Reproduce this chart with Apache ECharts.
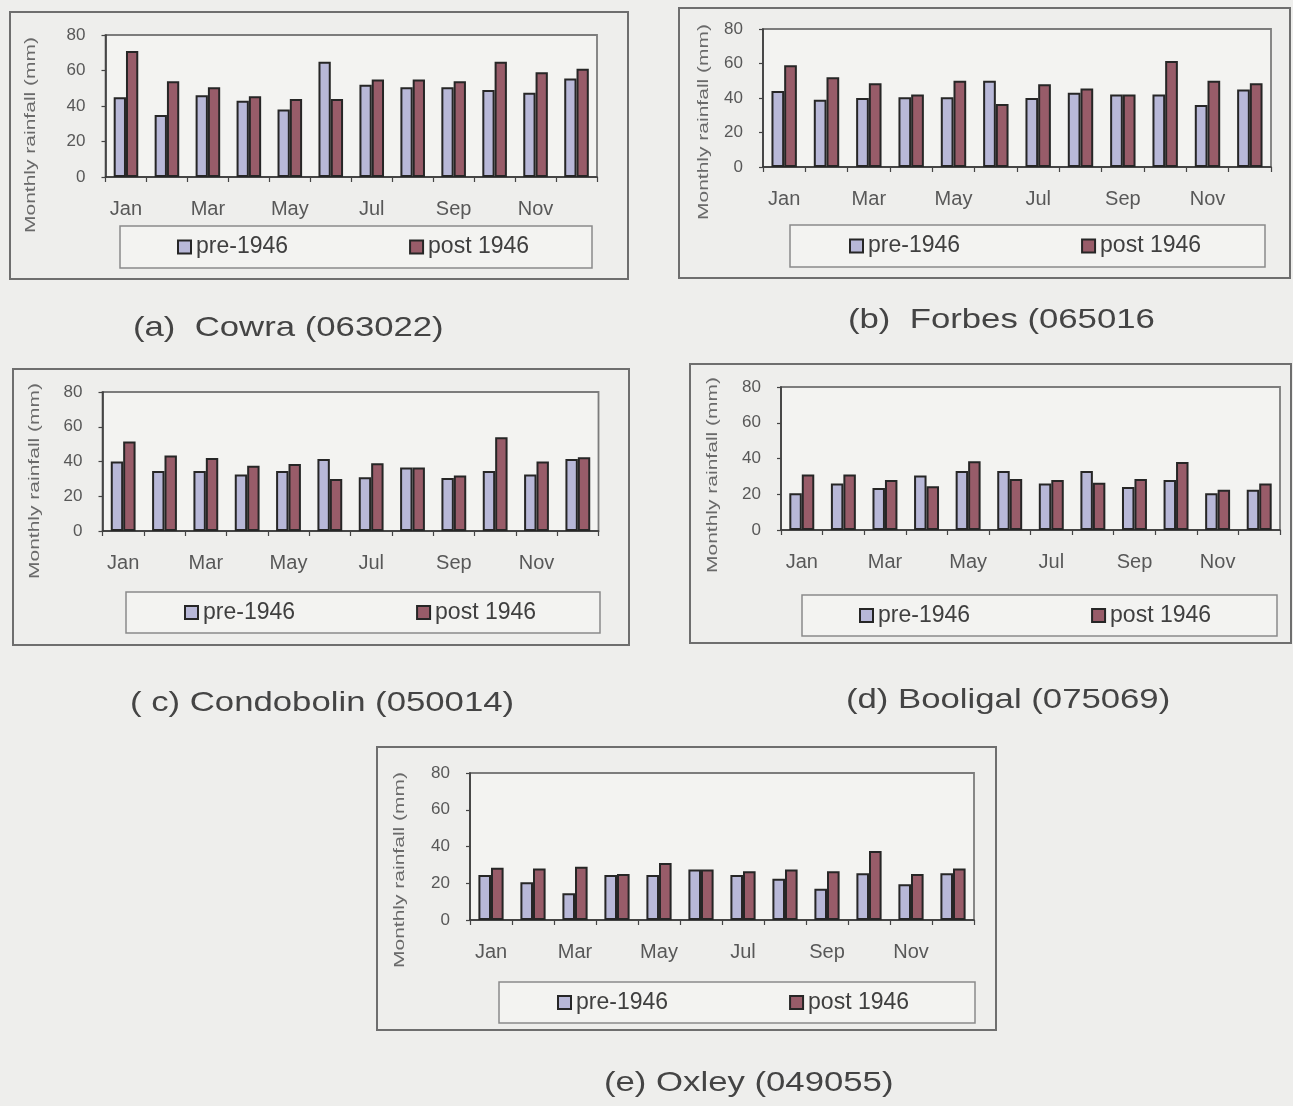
<!DOCTYPE html>
<html>
<head>
<meta charset="utf-8">
<script src="https://cdn.jsdelivr.net/npm/echarts@6/dist/echarts.min.js"></script>
<style>
  html, body { margin: 0; padding: 0; background: #eeeeec; }
  #chart { width: 1293px; height: 1106px; }
</style>
</head>
<body>
<div id="chart"></div>
<script>
// Mean monthly rainfall (mm) before and after 1946 at five stations
const months = ['Jan', 'Feb', 'Mar', 'Apr', 'May', 'Jun', 'Jul', 'Aug', 'Sep', 'Oct', 'Nov', 'Dec'];
const seriesNames = ['pre-1946', 'post 1946'];
const yAxisTitle = 'Monthly rainfall (mm)';
const yMin = 0, yMax = 80, yStep = 20;

const cowraPre  = [45, 35, 46, 43, 38, 65, 52, 50.5, 50.5, 49, 47.5, 55.5];
const cowraPost = [71, 54, 50.5, 45.5, 44, 44, 55, 55, 54, 65, 59, 61];

const forbesPre  = [44, 39, 40, 40.5, 40.5, 50, 40, 43, 42, 42, 36, 45];
const forbesPost = [59, 52, 48.5, 42, 50, 36.5, 48, 45.5, 42, 61.5, 50, 48.5];

const condobolinPre  = [40, 34.5, 34.5, 32.5, 34.5, 41.5, 31, 36.5, 30.5, 34.5, 32.5, 41.5];
const condobolinPost = [51.5, 43.5, 42, 37.5, 38.5, 30, 39, 36.5, 32, 54, 40, 42.5];

const booligalPre  = [20.5, 26, 23.5, 30.5, 33, 33, 26, 33, 24, 28, 20.5, 22.5];
const booligalPost = [31, 31, 28, 24.5, 38.5, 28.5, 28, 26.5, 28.5, 38, 22.5, 26];

const oxleyPre  = [24.5, 20.5, 14.5, 24.5, 24.5, 27.5, 24.5, 22.5, 17, 25.5, 19.5, 25.5];
const oxleyPost = [28.5, 28, 29, 25, 31, 27.5, 26.5, 27.5, 26.5, 37.5, 25, 28];

const stations = [
  { caption: '(a)  Cowra (063022)', pre: cowraPre, post: cowraPost },
  { caption: '(b)  Forbes (065016', pre: forbesPre, post: forbesPost },
  { caption: '( c) Condobolin (050014)', pre: condobolinPre, post: condobolinPost },
  { caption: '(d) Booligal (075069)', pre: booligalPre, post: booligalPost },
  { caption: '(e) Oxley (049055)', pre: oxleyPre, post: oxleyPost }
];

// Page layout of each panel: frame, plot rectangle, legend frame, legend start,
// rotated axis title centre and caption anchor (all in px)
const layout = [
  { box: [10, 12, 618, 267],  grid: [105.5, 35, 491.5, 142], legend: [120, 226, 472, 42], legendStart: 177, yTitle: [31, 135], caption: [133, 328] },
  { box: [679, 8, 611, 270],  grid: [763, 29, 508, 138],     legend: [790, 225, 475, 42], legendStart: 849, yTitle: [704, 122], caption: [848, 320] },
  { box: [13, 369, 616, 276], grid: [102.5, 392, 496, 139],  legend: [126, 592, 474, 41], legendStart: 184, yTitle: [35, 481], caption: [130, 703] },
  { box: [690, 364, 601, 279], grid: [781, 387, 499, 143],   legend: [802, 595, 475, 41], legendStart: 859, yTitle: [713, 475], caption: [846, 700] },
  { box: [377, 747, 619, 283], grid: [470, 773, 504, 147],   legend: [499, 982, 476, 41], legendStart: 557, yTitle: [400, 870], caption: [604, 1083] }
];

const FONT = '"Liberation Sans", Arial, Helvetica, sans-serif';
const PRE_COLOR = '#b8b8d8';
const POST_COLOR = '#985c69';
const BAR_EDGE = '#262626';
const LEGEND_FONT = 23;

const grid = [], xAxis = [], yAxis = [], series = [], legend = [], graphic = [];

stations.forEach((st, i) => {
  const L = layout[i];
  grid.push({
    left: L.grid[0], top: L.grid[1], width: L.grid[2], height: L.grid[3],
    show: true, backgroundColor: '#f3f3f1', borderColor: '#7c7c7c', borderWidth: 1.8
  });
  xAxis.push({
    type: 'category', gridIndex: i, data: months,
    axisLine: { lineStyle: { color: '#333', width: 1.5 } },
    axisTick: { show: true, interval: 0, length: 5, lineStyle: { color: '#444', width: 1.2 } },
    axisLabel: { interval: 1, margin: 22, color: '#585858', fontSize: 20, fontFamily: FONT }
  });
  yAxis.push({
    type: 'value', gridIndex: i, min: yMin, max: yMax, interval: yStep,
    axisLine: { show: true, lineStyle: { color: '#333', width: 1.5 } },
    axisTick: { show: true, length: 4, lineStyle: { color: '#444', width: 1.2 } },
    splitLine: { show: false },
    axisLabel: { margin: 20, color: '#585858', fontSize: 17, fontFamily: FONT }
  });
  [st.pre, st.post].forEach((vals, k) => {
    series.push({
      type: 'bar', name: seriesNames[k], xAxisIndex: i, yAxisIndex: i,
      data: vals, barWidth: '30%', barGap: '0%',
      itemStyle: { color: k === 0 ? PRE_COLOR : POST_COLOR, borderColor: BAR_EDGE, borderWidth: 2 }
    });
  });
  legend.push({
    left: L.legendStart, top: L.legend[1] + (L.legend[3] - LEGEND_FONT) / 2,
    padding: 0, itemGap: 121, itemWidth: 13, itemHeight: 13, icon: 'rect',
    selectedMode: false, data: seriesNames,
    textStyle: { fontFamily: FONT, fontSize: LEGEND_FONT, color: '#3f3f3f' }
  });

  // panel frame
  graphic.push({
    type: 'rect', z: 0, silent: true,
    shape: { x: L.box[0], y: L.box[1], width: L.box[2], height: L.box[3] },
    style: { fill: 'transparent', stroke: '#6e6e6e', lineWidth: 2 }
  });
  // legend frame
  graphic.push({
    type: 'rect', z: 0, silent: true,
    shape: { x: L.legend[0], y: L.legend[1], width: L.legend[2], height: L.legend[3] },
    style: { fill: '#f3f3f1', stroke: '#8a8a8a', lineWidth: 1.5 }
  });
  // rotated y-axis title
  graphic.push({
    type: 'text', z: 1, silent: true,
    x: L.yTitle[0], y: L.yTitle[1], rotation: Math.PI / 2, scaleX: 1.4,
    style: { text: yAxisTitle, font: '15px ' + FONT, fill: '#6a6a6a', align: 'center', verticalAlign: 'middle' }
  });
  // caption under the panel
  graphic.push({
    type: 'text', z: 1, silent: true,
    x: L.caption[0], y: L.caption[1], scaleX: 1.24,
    style: { text: st.caption, font: '28px ' + FONT, fill: '#444', align: 'left', verticalAlign: 'middle' }
  });
});

const chart = echarts.init(document.getElementById('chart'), null, { renderer: 'canvas' });
chart.setOption({
  backgroundColor: '#eeeeec',
  animation: false,
  grid, xAxis, yAxis, series, legend, graphic
});
</script>
</body>
</html>
